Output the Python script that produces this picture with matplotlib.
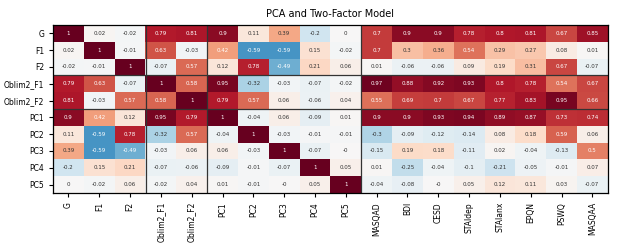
import numpy as np
import matplotlib
matplotlib.use("Agg")
import matplotlib.pyplot as plt

rows = ["G", "F1", "F2", "Oblim2_F1", "Oblim2_F2", "PC1", "PC2", "PC3", "PC4", "PC5"]
cols = ["G", "F1", "F2", "Oblim2_F1", "Oblim2_F2", "PC1", "PC2", "PC3", "PC4", "PC5",
        "MASQAD", "BDI", "CESD", "STAIdep", "STAIanx", "EPQN", "PSWQ", "MASQAA"]

g_row = [1, 0.02, -0.02, 0.79, 0.81, 0.9, 0.11, 0.39, -0.2, 0.0, 0.7, 0.9, 0.9, 0.78, 0.8, 0.81, 0.67, 0.85]
f1_row = [0.02, 1, -0.01, 0.63, -0.03, 0.42, -0.59, -0.59, 0.15, -0.02, 0.7, 0.3, 0.36, 0.54, 0.29, 0.27, 0.08, 0.01]
f2_row = [-0.02, -0.01, 1, -0.07, 0.57, 0.12, 0.78, -0.49, 0.21, 0.06, 0.01, -0.06, -0.06, 0.09, 0.19, 0.31, 0.67, -0.07]
ob1_row = [0.79, 0.63, -0.07, 1, 0.58, 0.95, -0.32, -0.03, -0.07, -0.02, 0.97, 0.88, 0.92, 0.93, 0.8, 0.78, 0.54, 0.67]
ob2_row = [0.81, -0.03, 0.57, 0.58, 1, 0.79, 0.57, 0.06, -0.06, 0.04, 0.55, 0.69, 0.7, 0.67, 0.77, 0.83, 0.95, 0.66]
pc1_row = [0.9, 0.42, 0.12, 0.95, 0.79, 1, -0.04, 0.06, -0.09, 0.01, 0.9, 0.9, 0.93, 0.94, 0.89, 0.87, 0.73, 0.74]
pc2_row = [0.11, -0.59, 0.78, -0.32, 0.57, -0.04, 1, -0.03, -0.01, -0.01, -0.3, -0.09, -0.12, -0.14, 0.08, 0.18, 0.59, 0.06]
pc3_row = [0.39, -0.59, -0.49, -0.03, 0.06, 0.06, -0.03, 1, -0.07, -0.0, -0.15, 0.19, 0.18, -0.11, 0.02, -0.04, -0.13, 0.5]
pc4_row = [-0.2, 0.15, 0.21, -0.07, -0.06, -0.09, -0.01, -0.07, 1, 0.05, 0.01, -0.25, -0.04, -0.1, -0.21, -0.05, -0.01, 0.07]
pc5_row = [0.0, -0.02, 0.06, -0.02, 0.04, 0.01, -0.01, -0.0, 0.05, 1, -0.04, -0.08, -0.0, 0.05, 0.12, 0.11, 0.03, -0.07]

data = np.array([g_row, f1_row, f2_row, ob1_row, ob2_row,
                 pc1_row, pc2_row, pc3_row, pc4_row, pc5_row], dtype=float)

fig = plt.figure(figsize=(6.17, 2.47), dpi=100)
ax = fig.add_axes([0.086, 0.219, 0.899, 0.68])
ax.imshow(data, cmap="RdBu_r", vmin=-1, vmax=1, aspect="auto", interpolation="nearest")

for i in range(data.shape[0]):
    for j in range(data.shape[1]):
        v = data[i, j]
        color = "white" if abs(v) >= 0.4 else "#333333"
        ax.text(j, i, f"{v:g}", ha="center", va="center", fontsize=4, color=color)

# block separators
for y in [2.5, 4.5]:
    ax.axhline(y, color="#333333", lw=0.9)
for x in [2.5, 4.5, 9.5]:
    ax.axvline(x, color="#333333", lw=0.9)

ax.set_xticks(range(len(cols)))
ax.set_xticklabels(cols, rotation=90, fontsize=5.5)
ax.set_yticks(range(len(rows)))
ax.set_yticklabels(rows, fontsize=5.5)
ax.tick_params(length=3, width=0.8)
for s in ax.spines.values():
    s.set_linewidth(0.9)
ax.set_title("PCA and Two-Factor Model", fontsize=7)

fig.savefig("out.png", dpi=100)
